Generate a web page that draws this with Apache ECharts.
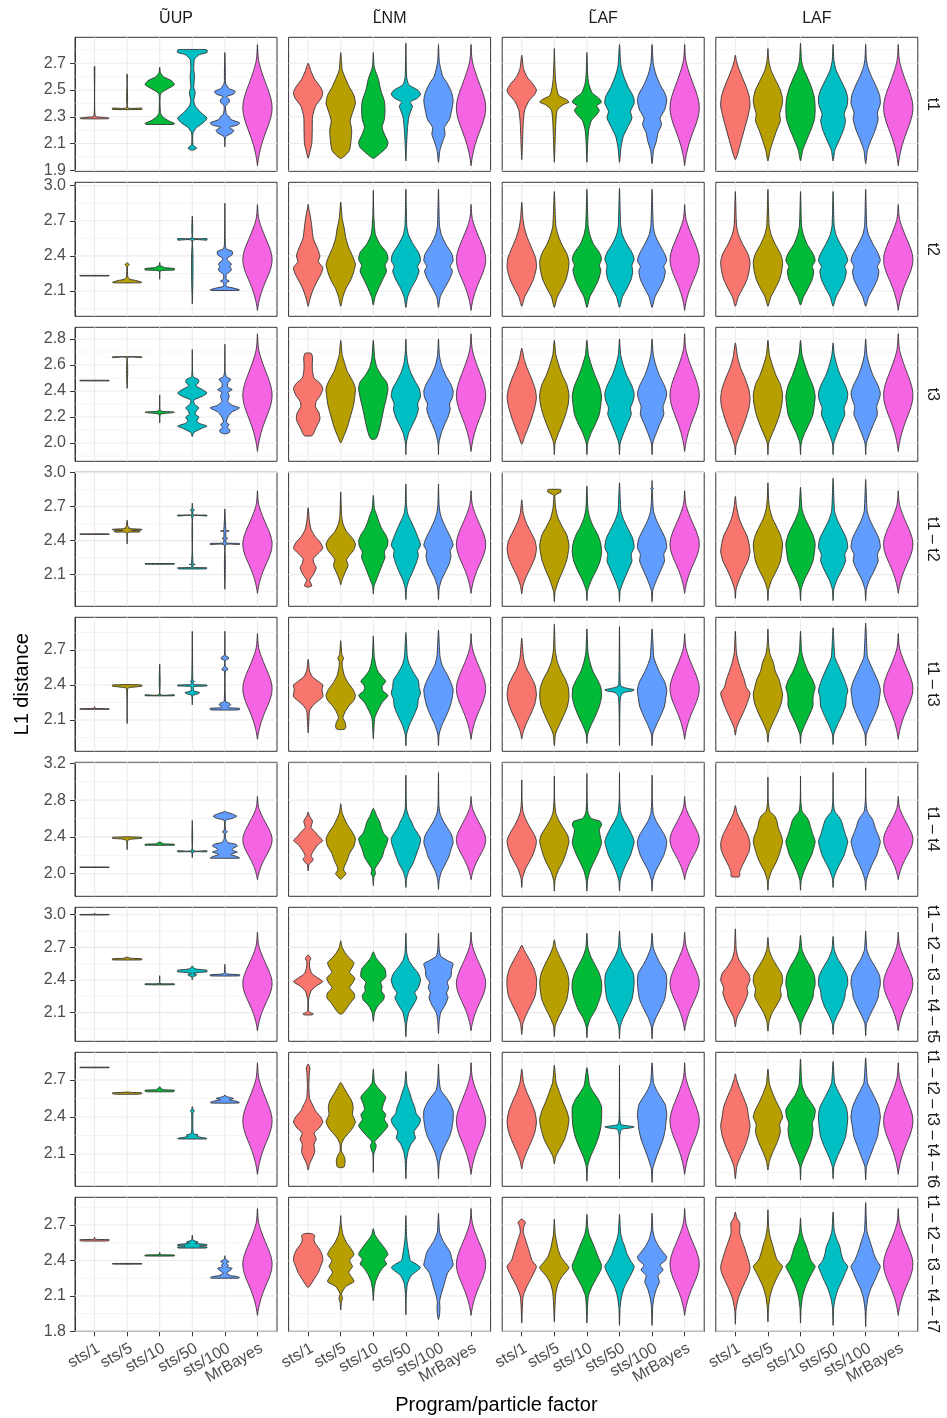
<!DOCTYPE html>
<html>
<head>
<meta charset="utf-8">
<script src="https://cdn.jsdelivr.net/npm/echarts@6/dist/echarts.min.js"></script>
<style>
html,body{margin:0;padding:0;background:#fff}
#chart{width:947px;height:1418px}
</style>
</head>
<body>
<div id="chart"></div>
<script>
// Categories
const programs = ['sts/1', 'sts/5', 'sts/10', 'sts/50', 'sts/100', 'MrBayes'];
const methods = ['\u0168UP', 'L\u0303NM', 'L\u0303AF', 'LAF'];
const topologies = ['t1', 't2', 't3', 't1 \u2013 t2', 't1 \u2013 t3', 't1 \u2013 t4',
  't1 \u2013 t2 \u2013 t3 \u2013 t4 \u2013 t5', 't1 \u2013 t2 \u2013 t3 \u2013 t4 \u2013 t6',
  't1 \u2013 t2 \u2013 t3 \u2013 t4 \u2013 t7'];
const fills = ['#F8766D', '#B79F00', '#00BA38', '#00BFC4', '#619CFF', '#F564E3'];

// Y limits and tick labels per topology row
const yLimits = [[1.8925, 2.894], [1.884, 3.029], [1.859, 2.89], [1.82, 3.003], [1.832, 2.98],
  [1.754, 3.211], [1.837, 3.068], [1.838, 2.925], [1.8, 2.935]];
const yBreaks = [[1.9, 2.1, 2.3, 2.5, 2.7], [2.1, 2.4, 2.7, 3.0], [2.0, 2.2, 2.4, 2.6, 2.8],
  [2.1, 2.4, 2.7, 3.0], [2.1, 2.4, 2.7], [2.0, 2.4, 2.8, 3.2], [2.1, 2.4, 2.7, 3.0],
  [2.1, 2.4, 2.7], [1.8, 2.1, 2.4, 2.7]];

// Violin outlines: flat lists of [L1 distance, relative half-width] pairs, bottom to top.
// MrBayes reference distribution (same in every panel)
const mrBayes = [1.935,0,1.97,.04,2.02,.12,2.08,.25,2.14,.42,2.2,.62,2.26,.82,2.32,.96,2.37,1,2.42,.95,2.48,.8,2.54,.6,2.6,.4,2.66,.22,2.71,.1,2.76,.04,2.84,0];

const violinsT1 = [
  [[2.285,.9,2.29,1,2.297,.45,2.305,.04,2.67,.02,2.68,0],
   [2.355,1,2.365,1,2.37,.03,2.61,.02,2.62,0],
   [2.243,.95,2.25,1,2.27,.6,2.3,.2,2.33,.05,2.47,.05,2.5,.4,2.54,1,2.57,.8,2.6,.25,2.63,.05,2.67,0],
   [2.05,0,2.065,.3,2.09,.05,2.18,.05,2.22,.3,2.26,.8,2.29,1,2.33,.6,2.38,.2,2.42,.1,2.48,.2,2.52,.1,2.6,.15,2.66,.1,2.73,.15,2.765,.5,2.78,1,2.8,1,2.803,.6],
   [2.075,0,2.15,.05,2.18,.5,2.2,.6,2.22,.3,2.24,.9,2.255,1,2.28,.4,2.3,.3,2.32,.1,2.38,.05,2.41,.3,2.43,.3,2.45,.1,2.47,.6,2.49,.7,2.51,.3,2.55,.05,2.65,.03,2.78,0]],
  [[1.99,0,2.03,.1,2.1,.25,2.2,.28,2.3,.3,2.38,.5,2.44,.9,2.48,1,2.52,.85,2.58,.45,2.64,.2,2.7,0],
   [1.99,.05,2.01,.3,2.05,.6,2.12,.7,2.2,.75,2.27,.65,2.33,.8,2.4,1,2.46,.9,2.52,.6,2.58,.35,2.65,.1,2.72,.05,2.78,0],
   [1.99,.05,2.02,.4,2.07,.9,2.11,1,2.16,.8,2.22,.6,2.28,.75,2.35,.8,2.42,.75,2.5,.5,2.58,.35,2.64,.15,2.68,.05,2.78,0],
   [1.97,0,2.1,.05,2.2,.1,2.3,.2,2.36,.4,2.38,.45,2.41,.3,2.44,.8,2.47,1,2.5,.8,2.54,.2,2.6,.05,2.85,0],
   [1.96,0,2.05,.1,2.12,.3,2.17,.45,2.22,.4,2.28,.75,2.35,.9,2.42,1,2.48,.9,2.55,.6,2.6,.3,2.66,.15,2.72,.05,2.84,0]],
  [[1.98,0,2.1,.05,2.25,.1,2.35,.2,2.42,.5,2.47,.9,2.5,1,2.54,.8,2.6,.35,2.66,.12,2.76,0],
   [1.96,0,2.1,.05,2.25,.1,2.35,.2,2.39,.6,2.41,1,2.43,.8,2.46,.3,2.52,.15,2.58,.08,2.7,.03,2.81,0],
   [1.96,0,2.1,.05,2.2,.12,2.27,.3,2.32,.7,2.35,.85,2.38,.65,2.41,1,2.44,.8,2.48,.35,2.55,.12,2.62,.05,2.78,0],
   [1.96,0,2.07,.1,2.15,.25,2.22,.55,2.29,.85,2.34,.75,2.4,1,2.45,.95,2.52,.6,2.6,.3,2.68,.1,2.84,0],
   [1.95,0,2.05,.1,2.12,.3,2.18,.4,2.24,.65,2.29,.55,2.35,.85,2.42,1,2.47,.9,2.54,.55,2.62,.25,2.7,.08,2.84,0]],
  [[1.98,0,2.02,.15,2.1,.35,2.2,.6,2.3,.85,2.38,1,2.45,.95,2.52,.75,2.6,.45,2.67,.2,2.72,.07,2.76,0],
   [1.97,0,2.05,.15,2.12,.35,2.2,.6,2.27,.85,2.32,.8,2.38,.95,2.43,1,2.5,.85,2.58,.5,2.65,.2,2.72,.06,2.81,0],
   [1.97,0,2.05,.15,2.12,.4,2.2,.7,2.28,.95,2.36,1,2.44,.95,2.52,.75,2.6,.45,2.66,.2,2.72,.07,2.85,0],
   [1.97,0,2.05,.12,2.12,.4,2.2,.7,2.27,.85,2.32,.75,2.38,.95,2.44,1,2.5,.85,2.58,.5,2.65,.2,2.72,.06,2.84,0],
   [1.95,0,2.05,.12,2.12,.35,2.2,.65,2.28,.85,2.33,.8,2.4,1,2.46,.95,2.53,.7,2.6,.4,2.67,.15,2.73,.05,2.84,0]]
];

const violinsT2 = [
  [[2.229,1,2.233,1],
   [2.17,.9,2.175,1,2.19,.6,2.2,.2,2.22,.05,2.31,.03,2.325,.15,2.34,0],
   [2.2,0,2.27,.04,2.28,1,2.292,1,2.3,.3,2.31,.2,2.315,.04,2.345,0],
   [1.99,0,2.53,.03,2.535,1,2.548,1,2.555,.03,2.74,0],
   [2.105,.9,2.11,1,2.125,.6,2.14,.1,2.17,.1,2.185,.3,2.2,.1,2.24,.1,2.28,.45,2.31,.35,2.33,.45,2.36,.2,2.38,.15,2.41,.5,2.44,.5,2.46,.1,2.5,.03,2.85,0]],
  [[1.97,0,2.02,.1,2.1,.3,2.18,.6,2.25,.9,2.3,1,2.35,.7,2.4,.8,2.46,.65,2.55,.35,2.65,.25,2.74,.15,2.8,.05,2.84,0],
   [1.97,0,2.05,.15,2.12,.35,2.2,.7,2.27,.9,2.33,1,2.4,.8,2.47,.55,2.55,.35,2.63,.25,2.72,.1,2.86,0],
   [1.98,0,2.05,.12,2.12,.35,2.2,.65,2.27,.9,2.32,.8,2.37,1,2.43,.9,2.5,.45,2.58,.15,2.65,.08,2.75,.03,2.96,0],
   [1.96,0,2.05,.12,2.12,.35,2.2,.7,2.27,.9,2.31,.8,2.36,1,2.42,.9,2.5,.5,2.58,.18,2.66,.06,2.97,0],
   [1.96,0,2.05,.12,2.12,.4,2.2,.75,2.27,.95,2.31,.8,2.36,1,2.42,.9,2.5,.5,2.58,.2,2.66,.07,2.97,0]],
  [[1.97,0,2.05,.2,2.12,.5,2.2,.8,2.3,1,2.38,.95,2.46,.7,2.55,.4,2.63,.2,2.72,.08,2.86,0],
   [1.96,0,2.05,.2,2.12,.5,2.2,.8,2.28,.95,2.35,1,2.42,.85,2.5,.5,2.58,.25,2.66,.1,2.95,0],
   [1.96,0,2.05,.2,2.12,.5,2.2,.8,2.28,.95,2.32,.85,2.37,1,2.43,.85,2.5,.45,2.58,.2,2.66,.08,2.97,0],
   [1.96,0,2.05,.2,2.12,.5,2.2,.8,2.27,.9,2.32,.85,2.37,1,2.43,.85,2.5,.5,2.58,.2,2.66,.08,2.98,0],
   [1.96,0,2.05,.2,2.12,.5,2.2,.8,2.27,.9,2.31,.8,2.36,1,2.42,.85,2.5,.5,2.58,.2,2.66,.08,2.97,0]],
  [[1.97,0,2.05,.2,2.12,.5,2.2,.8,2.28,.95,2.35,1,2.42,.85,2.5,.5,2.58,.22,2.66,.08,2.95,0],
   [1.97,0,2.05,.2,2.12,.5,2.2,.8,2.28,.95,2.35,1,2.42,.85,2.5,.5,2.58,.22,2.66,.08,2.97,0],
   [1.98,0,2.05,.2,2.12,.5,2.2,.8,2.27,.9,2.31,.8,2.36,1,2.42,.85,2.5,.45,2.58,.2,2.66,.07,2.95,0],
   [1.97,0,2.05,.2,2.12,.5,2.2,.8,2.27,.9,2.31,.8,2.36,1,2.42,.85,2.5,.5,2.58,.2,2.66,.07,2.95,0],
   [1.97,0,2.05,.2,2.12,.5,2.2,.8,2.27,.9,2.31,.8,2.36,1,2.42,.85,2.5,.5,2.58,.2,2.66,.07,2.97,0]]
];

const violinsT3 = [
  [[2.478,1,2.482,1],
   [2.42,0,2.655,.03,2.657,1,2.663,1],
   [2.155,0,2.22,.05,2.232,.8,2.236,1,2.24,.8,2.25,.05,2.37,0],
   [2.05,0,2.08,.1,2.11,.6,2.13,1,2.15,.5,2.17,.3,2.2,.45,2.22,.2,2.25,.3,2.27,.45,2.3,.15,2.33,.1,2.36,.7,2.385,1,2.41,.7,2.44,.25,2.47,.45,2.49,.4,2.51,.05,2.72,0],
   [2.07,0,2.08,.3,2.1,.35,2.12,.15,2.14,.3,2.16,.1,2.2,.2,2.24,.5,2.27,1,2.29,.5,2.32,.2,2.36,.3,2.39,.2,2.41,.5,2.43,.2,2.46,.2,2.49,.4,2.51,.1,2.55,.02,2.76,0]],
  [[2.055,.25,2.07,.35,2.12,.55,2.18,.8,2.23,.75,2.28,.5,2.32,.55,2.37,.85,2.42,1,2.46,.8,2.5,.4,2.55,.3,2.6,.28,2.66,.3,2.69,.2],
   [2.0,0,2.05,.2,2.12,.45,2.2,.65,2.28,.85,2.35,.95,2.42,1,2.48,.8,2.55,.45,2.62,.25,2.68,.1,2.79,0],
   [2.03,.15,2.06,.3,2.12,.45,2.2,.6,2.28,.75,2.35,.9,2.42,1,2.47,.9,2.52,.55,2.58,.25,2.65,.1,2.79,0],
   [1.91,0,2.0,.03,2.08,.2,2.14,.45,2.2,.7,2.26,.85,2.3,.8,2.36,1,2.42,.9,2.48,.6,2.55,.3,2.62,.12,2.7,.04,2.8,0],
   [1.91,0,2.0,.03,2.08,.2,2.15,.45,2.2,.65,2.26,.8,2.3,.75,2.35,.95,2.4,1,2.45,.85,2.52,.5,2.6,.2,2.68,.06,2.8,0]],
  [[1.99,0,2.05,.2,2.12,.45,2.2,.7,2.28,.9,2.35,1,2.42,.9,2.5,.65,2.58,.35,2.65,.15,2.73,0],
   [1.91,0,2.0,.05,2.08,.3,2.15,.55,2.23,.8,2.3,.95,2.37,1,2.45,.85,2.52,.55,2.6,.3,2.68,.1,2.79,0],
   [1.91,0,2.0,.05,2.08,.3,2.15,.6,2.22,.85,2.3,.95,2.36,1,2.44,.85,2.52,.55,2.6,.3,2.68,.1,2.79,0],
   [1.91,0,2.0,.05,2.08,.3,2.15,.55,2.22,.8,2.27,.75,2.33,.95,2.38,1,2.44,.85,2.52,.5,2.6,.25,2.68,.08,2.8,0],
   [1.91,0,2.0,.05,2.08,.3,2.15,.55,2.22,.8,2.28,.75,2.33,.9,2.38,1,2.44,.85,2.52,.5,2.6,.25,2.68,.08,2.8,0]],
  [[1.91,0,1.98,.05,2.05,.25,2.12,.5,2.2,.75,2.28,.95,2.35,1,2.42,.9,2.5,.65,2.58,.35,2.66,.15,2.77,0],
   [1.91,0,2.0,.05,2.06,.25,2.14,.55,2.22,.8,2.3,.95,2.37,1,2.45,.85,2.52,.55,2.6,.3,2.68,.1,2.79,0],
   [1.91,0,2.0,.05,2.08,.3,2.15,.6,2.22,.85,2.3,.95,2.36,1,2.44,.85,2.52,.55,2.6,.3,2.68,.1,2.79,0],
   [1.91,0,2.0,.05,2.08,.3,2.15,.55,2.22,.8,2.27,.75,2.33,.95,2.38,1,2.44,.85,2.52,.5,2.6,.25,2.68,.08,2.77,0],
   [1.91,0,2.0,.05,2.08,.3,2.15,.55,2.22,.8,2.28,.75,2.33,.9,2.38,1,2.44,.85,2.52,.5,2.6,.25,2.68,.08,2.8,0]]
];

const violinsT1T2 = [
  [[2.455,1,2.459,1],
   [2.37,0,2.47,.05,2.475,.8,2.485,.9,2.49,.3,2.495,1,2.5,1,2.505,.3,2.51,.1,2.515,.15,2.525,.05,2.58,0],
   [2.192,1,2.197,1],
   [2.15,.9,2.155,1,2.16,1,2.165,.05,2.185,.05,2.19,.2,2.195,.05,2.615,.05,2.617,1,2.625,1,2.628,.05,2.66,.05,2.67,.15,2.68,.03,2.73,0],
   [1.97,0,2.36,.05,2.365,1,2.375,1,2.38,.1,2.415,.08,2.42,.2,2.425,.08,2.48,.08,2.485,.3,2.49,.08,2.68,0]],
  [[1.99,.05,2.0,.25,2.02,.2,2.05,.1,2.1,.35,2.16,.55,2.2,.4,2.24,.35,2.29,.7,2.33,1,2.38,.85,2.44,.45,2.5,.2,2.58,.08,2.69,0],
   [2.01,0,2.05,.08,2.12,.3,2.18,.5,2.23,.4,2.27,.6,2.32,.9,2.37,1,2.42,.8,2.48,.4,2.55,.15,2.62,.06,2.83,0],
   [1.93,0,2.0,.05,2.05,.2,2.1,.35,2.15,.5,2.2,.65,2.25,.8,2.3,.75,2.35,.95,2.4,1,2.45,.85,2.5,.6,2.56,.4,2.62,.25,2.68,.08,2.8,0],
   [1.88,0,1.98,.05,2.05,.2,2.12,.45,2.2,.7,2.27,.85,2.31,.8,2.36,1,2.42,.85,2.5,.6,2.57,.35,2.64,.12,2.72,.04,2.9,0],
   [1.88,0,1.98,.05,2.05,.2,2.12,.45,2.2,.75,2.27,.85,2.31,.8,2.36,1,2.42,.85,2.5,.55,2.57,.3,2.64,.12,2.72,.04,2.9,0]],
  [[1.93,0,2.0,.08,2.08,.3,2.16,.6,2.25,.9,2.33,1,2.4,.9,2.48,.6,2.56,.3,2.64,.1,2.76,0],
   [1.86,0,1.95,.05,2.05,.3,2.14,.6,2.23,.85,2.3,.95,2.36,1,2.45,.85,2.52,.55,2.6,.25,2.68,.1,2.75,.05,2.8,.05,2.83,.45,2.85,.45,2.853,.3],
   [1.87,0,1.96,.05,2.05,.3,2.14,.65,2.22,.9,2.3,1,2.37,.95,2.45,.75,2.52,.45,2.6,.2,2.68,.07,2.88,0],
   [1.86,0,1.96,.05,2.05,.3,2.14,.6,2.22,.85,2.28,.8,2.34,1,2.42,.9,2.5,.6,2.58,.3,2.66,.1,2.91,0],
   [1.86,0,1.96,.05,2.05,.3,2.14,.6,2.22,.85,2.28,.8,2.34,1,2.42,.9,2.5,.6,2.58,.3,2.66,.1,2.85,.02,2.86,.1,2.87,.02,2.93,0]],
  [[1.89,0,1.97,.05,2.05,.25,2.14,.55,2.22,.85,2.3,1,2.36,.95,2.44,.8,2.52,.5,2.6,.25,2.7,.08,2.79,0],
   [1.87,0,1.97,.05,2.05,.25,2.14,.6,2.22,.85,2.3,.95,2.37,1,2.45,.85,2.52,.6,2.6,.3,2.68,.12,2.76,.05,2.91,0],
   [1.87,0,1.97,.05,2.05,.25,2.14,.6,2.22,.85,2.3,.95,2.37,1,2.45,.85,2.52,.6,2.6,.3,2.68,.1,2.87,0],
   [1.87,0,1.97,.05,2.05,.25,2.14,.6,2.22,.85,2.28,.8,2.34,1,2.42,.9,2.5,.6,2.58,.3,2.66,.1,2.95,0],
   [1.87,0,1.97,.05,2.05,.25,2.14,.6,2.22,.85,2.28,.8,2.34,1,2.42,.9,2.5,.6,2.58,.3,2.66,.1,2.94,0]]
];

const violinsT1T3 = [
  [[2.192,1,2.196,1,2.2,.04,2.215,0],
   [2.07,0,2.37,.04,2.38,.3,2.39,1,2.4,1,2.403,.5],
   [2.308,1,2.316,1,2.32,.04,2.58,0],
   [2.23,0,2.31,.05,2.325,.4,2.335,.5,2.35,.1,2.385,.1,2.392,1,2.4,1,2.405,.1,2.425,.05,2.43,.15,2.44,.04,2.86,0],
   [2.186,.9,2.19,1,2.2,1,2.205,.3,2.215,.2,2.23,.4,2.245,.3,2.26,.05,2.52,.03,2.53,.2,2.545,.15,2.56,.03,2.61,.03,2.625,.25,2.64,.22,2.655,.03,2.86,0]],
  [[1.99,0,2.1,.05,2.18,.1,2.22,.3,2.25,.55,2.3,1,2.36,.95,2.4,1,2.43,.7,2.47,.3,2.52,.1,2.62,0],
   [2.02,.25,2.04,.35,2.08,.3,2.12,.15,2.17,.3,2.22,.55,2.27,.9,2.31,1,2.36,.85,2.42,.5,2.48,.25,2.55,.12,2.6,.1,2.63,.2,2.66,.08,2.78,0],
   [1.94,0,2.05,.05,2.12,.1,2.18,.3,2.25,.6,2.31,1,2.35,.65,2.39,.6,2.43,.85,2.47,.6,2.52,.3,2.58,.15,2.65,.06,2.82,0],
   [1.88,0,1.98,.05,2.06,.25,2.14,.55,2.22,.8,2.28,.85,2.33,1,2.38,.9,2.44,.85,2.5,.55,2.57,.25,2.64,.1,2.85,0],
   [1.88,0,1.98,.05,2.06,.25,2.14,.55,2.22,.8,2.3,.95,2.36,1,2.42,.85,2.5,.55,2.57,.25,2.65,.1,2.87,0]],
  [[1.94,0,2.0,.1,2.08,.35,2.16,.65,2.24,.9,2.32,1,2.4,.9,2.48,.6,2.55,.3,2.63,.12,2.8,0],
   [1.88,0,1.98,.08,2.06,.35,2.14,.65,2.22,.9,2.3,1,2.38,.95,2.45,.75,2.52,.45,2.6,.2,2.7,.06,2.92,0],
   [1.9,0,1.98,.05,2.06,.3,2.14,.6,2.22,.85,2.3,1,2.38,.95,2.45,.7,2.52,.4,2.6,.2,2.68,.07,2.88,0],
   [1.88,0,2.2,.03,2.3,.08,2.335,.3,2.35,.9,2.36,1,2.37,.6,2.39,.1,2.45,.04,2.9,0],
   [1.88,0,1.98,.05,2.06,.3,2.14,.6,2.22,.85,2.3,.95,2.36,1,2.43,.85,2.5,.55,2.57,.3,2.64,.12,2.88,0]],
  [[1.97,0,2.03,.08,2.1,.3,2.18,.6,2.26,.85,2.33,1,2.38,.75,2.45,.6,2.52,.4,2.6,.2,2.68,.07,2.86,0],
   [1.91,0,2.0,.08,2.08,.35,2.16,.65,2.24,.9,2.32,1,2.38,.9,2.45,.75,2.52,.5,2.6,.35,2.66,.15,2.74,.05,2.88,0],
   [1.9,0,1.98,.05,2.06,.3,2.14,.6,2.22,.85,2.28,.85,2.33,.9,2.38,1,2.45,.8,2.52,.5,2.6,.25,2.68,.08,2.86,0],
   [1.89,0,1.98,.05,2.06,.3,2.14,.6,2.22,.85,2.3,.9,2.35,1,2.42,.85,2.5,.6,2.57,.35,2.64,.12,2.89,0],
   [1.88,0,1.98,.05,2.06,.3,2.14,.6,2.22,.85,2.3,.95,2.36,1,2.43,.85,2.5,.6,2.57,.35,2.64,.12,2.93,0]]
];

const violinsT1T4 = [
  [[2.068,1,2.072,1],
   [2.26,0,2.36,.04,2.375,.3,2.385,1,2.395,1,2.4,.3],
   [2.31,1,2.32,1,2.325,.2,2.335,.15,2.345,0],
   [2.175,0,2.235,.05,2.238,1,2.25,1,2.255,.05,2.58,0],
   [2.168,.95,2.172,1,2.19,.75,2.21,.4,2.235,.85,2.255,.5,2.275,.55,2.3,.85,2.32,.75,2.34,.2,2.38,.05,2.44,.05,2.455,.18,2.47,.05,2.58,.05,2.6,.5,2.625,.8,2.65,.5,2.67,.1,2.68,0]],
  [[2.03,0,2.1,.05,2.13,.25,2.16,.35,2.19,.2,2.23,.3,2.28,.5,2.32,.7,2.36,1,2.4,.75,2.45,.5,2.5,.2,2.54,.25,2.57,.3,2.6,.2,2.63,.08,2.67,0],
   [1.94,0,1.97,.2,2.0,.35,2.04,.2,2.08,.25,2.15,.45,2.22,.6,2.3,.9,2.38,1,2.45,.8,2.52,.5,2.6,.25,2.67,.08,2.76,0],
   [1.87,0,1.97,.05,2.0,.15,2.05,.1,2.1,.3,2.18,.6,2.26,.75,2.32,.9,2.38,1,2.44,.7,2.5,.55,2.56,.45,2.62,.25,2.71,0],
   [1.85,0,1.95,.05,2.03,.2,2.1,.45,2.18,.65,2.25,.8,2.32,.95,2.38,1,2.44,.8,2.5,.55,2.56,.4,2.62,.2,2.7,.05,2.85,.02,3.07,0],
   [1.83,0,1.93,.05,2.02,.2,2.1,.45,2.18,.7,2.26,.85,2.34,1,2.42,.9,2.5,.6,2.58,.3,2.66,.1,2.75,.03,3.1,0]],
  [[1.85,0,1.95,.05,2.05,.25,2.14,.55,2.22,.8,2.3,.95,2.36,1,2.44,.8,2.52,.5,2.6,.25,2.68,.08,2.8,.02,3.02,0],
   [1.81,0,1.93,.05,2.03,.25,2.12,.55,2.2,.75,2.28,.9,2.35,1,2.42,.9,2.5,.6,2.58,.3,2.66,.1,2.8,.02,3.06,0],
   [1.81,0,1.93,.05,2.03,.2,2.12,.45,2.2,.7,2.28,.9,2.34,1,2.42,.9,2.48,.85,2.53,1,2.57,.9,2.6,.3,2.66,.08,2.8,.02,3.09,0],
   [1.81,0,1.93,.05,2.03,.25,2.12,.5,2.2,.75,2.28,.9,2.35,1,2.42,.85,2.5,.6,2.58,.3,2.66,.1,2.8,.02,3.1,0],
   [1.81,0,1.93,.05,2.03,.25,2.12,.55,2.2,.8,2.28,.95,2.35,1,2.42,.85,2.5,.55,2.58,.25,2.66,.08,2.8,.02,3.07,0]],
  [[1.965,.25,1.98,.3,2.02,.3,2.08,.45,2.16,.7,2.25,.95,2.33,1,2.42,.85,2.5,.6,2.58,.35,2.66,.12,2.74,0],
   [1.82,0,1.93,.05,2.03,.25,2.12,.55,2.2,.75,2.28,.9,2.35,1,2.42,.9,2.5,.7,2.58,.6,2.63,.45,2.68,.12,2.8,.02,3.05,0],
   [1.82,0,1.93,.05,2.03,.25,2.12,.5,2.2,.75,2.28,.9,2.35,1,2.42,.85,2.5,.7,2.58,.55,2.63,.35,2.68,.1,2.8,.02,3.06,0],
   [1.85,0,1.95,.05,2.04,.25,2.12,.5,2.2,.75,2.28,.9,2.35,1,2.42,.85,2.5,.7,2.58,.55,2.63,.35,2.68,.1,2.8,.02,3.1,0],
   [1.82,0,1.93,.05,2.03,.25,2.12,.5,2.2,.75,2.28,.9,2.35,1,2.42,.85,2.5,.65,2.58,.5,2.63,.3,2.68,.1,2.8,.02,3.15,0]]
];

const violinsT5 = [
  [[2.998,1,3.002,1,3.004,.03,3.015,0],
   [2.585,1,2.595,1,2.6,.2,2.605,.15,2.61,0],
   [2.357,1,2.365,1,2.37,.03,2.44,0],
   [2.4,0,2.43,.05,2.44,.25,2.45,.3,2.46,.05,2.47,.5,2.475,1,2.49,1,2.5,.3,2.51,.1,2.53,0],
   [2.438,1,2.448,1,2.455,.2,2.465,.04,2.545,0]],
  [[2.08,.3,2.09,.35,2.1,.15,2.12,.03,2.22,.03,2.3,.2,2.35,.6,2.385,1,2.42,.65,2.46,.25,2.52,.1,2.57,.1,2.6,.18,2.63,0],
   [2.09,.1,2.12,.3,2.18,.6,2.24,.95,2.28,.9,2.33,.6,2.38,.85,2.42,.95,2.47,.6,2.52,.8,2.56,.9,2.6,.6,2.65,.3,2.7,.1,2.76,0],
   [2.02,0,2.1,.08,2.16,.3,2.22,.7,2.26,.75,2.3,.55,2.34,.6,2.38,.5,2.43,.85,2.5,.8,2.55,.5,2.6,.2,2.66,0],
   [1.88,0,2.0,.05,2.1,.2,2.18,.55,2.24,.75,2.28,.6,2.33,.85,2.4,1,2.46,.85,2.52,.5,2.58,.2,2.65,.06,2.83,0],
   [1.91,0,2.02,.05,2.1,.15,2.17,.45,2.24,.65,2.28,.55,2.33,.7,2.38,.6,2.43,.85,2.5,.9,2.55,1,2.58,.6,2.62,.15,2.68,.05,2.83,0]],
  [[1.9,0,2.0,.08,2.08,.3,2.16,.6,2.25,.9,2.33,1,2.42,1,2.5,.85,2.57,.6,2.63,.35,2.68,.15,2.72,0],
   [1.88,0,1.98,.06,2.06,.3,2.14,.6,2.22,.85,2.3,.95,2.38,1,2.46,.9,2.54,.65,2.62,.35,2.7,.1,2.77,0],
   [1.87,0,1.97,.05,2.05,.25,2.13,.6,2.22,.85,2.3,1,2.38,1,2.46,.85,2.54,.55,2.62,.25,2.7,.07,2.83,0],
   [1.86,0,1.97,.05,2.05,.25,2.13,.55,2.22,.85,2.3,.95,2.38,1,2.46,.95,2.54,.65,2.62,.3,2.7,.08,2.85,0],
   [1.86,0,1.97,.05,2.05,.25,2.13,.55,2.22,.85,2.3,.95,2.38,1,2.46,.95,2.54,.6,2.62,.3,2.7,.08,2.83,0]],
  [[1.97,0,2.05,.1,2.12,.35,2.2,.65,2.28,.85,2.33,.8,2.4,1,2.46,.9,2.52,.55,2.6,.2,2.68,.06,2.87,0],
   [1.93,0,2.02,.08,2.1,.3,2.18,.65,2.25,.9,2.32,.85,2.38,1,2.45,.95,2.52,.65,2.6,.3,2.68,.08,2.79,0],
   [1.9,0,2.0,.06,2.08,.3,2.16,.6,2.24,.85,2.3,.9,2.36,1,2.44,.95,2.52,.7,2.6,.35,2.68,.1,2.81,0],
   [1.9,0,2.0,.06,2.08,.3,2.16,.6,2.24,.8,2.3,.85,2.36,1,2.44,.95,2.52,.65,2.6,.3,2.68,.08,2.8,0],
   [1.89,0,2.0,.06,2.08,.3,2.16,.6,2.24,.85,2.3,.9,2.36,1,2.44,.95,2.52,.65,2.6,.3,2.68,.08,2.85,0]]
];

const violinsT6 = [
  [[2.8,1,2.804,1],
   [2.585,.8,2.59,1,2.596,1,2.6,.3,2.603,0],
   [2.605,.9,2.61,1,2.618,1,2.622,.2,2.635,.1,2.645,0],
   [2.222,.9,2.226,1,2.235,.6,2.245,.3,2.255,.4,2.265,.1,2.3,.04,2.44,.05,2.45,.15,2.46,.05,2.485,0],
   [2.513,.9,2.518,1,2.528,.8,2.54,.3,2.55,.6,2.56,.3,2.57,.05,2.58,0]],
  [[1.97,0,2.02,.1,2.07,.3,2.12,.45,2.18,.4,2.22,.55,2.27,.4,2.31,.75,2.36,1,2.4,.85,2.45,.5,2.5,.3,2.55,.1,2.65,.05,2.75,.08,2.8,.12,2.83,0],
   [1.99,.15,2.0,.25,2.05,.3,2.09,.2,2.12,.05,2.18,.05,2.23,.25,2.3,.75,2.36,1,2.42,.8,2.48,.85,2.53,.75,2.58,.5,2.63,.25,2.68,0],
   [1.95,0,2.1,.03,2.14,.15,2.17,.2,2.2,.1,2.24,.4,2.28,.7,2.33,1,2.38,.75,2.42,.85,2.46,.6,2.51,.7,2.56,.85,2.6,.6,2.64,.3,2.68,.08,2.79,0],
   [1.9,0,2.05,.05,2.12,.15,2.18,.35,2.23,.65,2.28,.55,2.34,.9,2.38,1,2.43,.7,2.48,.6,2.54,.4,2.6,.25,2.66,.08,2.77,0],
   [1.9,0,2.02,.05,2.1,.2,2.17,.45,2.24,.75,2.3,.9,2.38,1,2.45,1,2.52,.75,2.57,.45,2.62,.15,2.7,.05,2.83,0]],
  [[1.98,0,2.04,.1,2.12,.35,2.2,.65,2.28,.9,2.36,1,2.44,.9,2.52,.65,2.6,.35,2.68,.12,2.79,0],
   [2.02,0,2.08,.1,2.15,.4,2.22,.7,2.3,.9,2.38,1,2.45,.85,2.52,.6,2.6,.35,2.68,.12,2.82,0],
   [1.88,0,2.0,.05,2.08,.25,2.16,.55,2.24,.8,2.32,.95,2.4,1,2.48,1,2.54,.8,2.6,.45,2.66,.18,2.8,0],
   [1.9,0,2.25,.02,2.3,.15,2.31,.7,2.32,1,2.33,.5,2.34,.1,2.4,.02,2.82,0],
   [1.87,0,1.98,.05,2.06,.25,2.14,.5,2.22,.75,2.3,.9,2.36,.95,2.42,1,2.5,.9,2.56,.6,2.62,.3,2.68,.1,2.84,0]],
  [[1.9,0,2.0,.1,2.08,.35,2.16,.65,2.25,.9,2.33,1,2.4,.9,2.48,.8,2.56,.55,2.63,.3,2.7,.1,2.75,0],
   [1.97,0,2.04,.1,2.12,.35,2.2,.65,2.28,.85,2.34,.8,2.4,1,2.46,.85,2.53,.55,2.6,.3,2.67,.1,2.79,0],
   [1.89,0,2.0,.05,2.08,.3,2.16,.6,2.24,.8,2.3,.85,2.35,.8,2.4,.95,2.46,1,2.52,.7,2.58,.35,2.66,.1,2.87,0],
   [1.9,0,2.0,.06,2.08,.3,2.16,.6,2.24,.85,2.32,.95,2.4,1,2.48,.9,2.55,.6,2.62,.3,2.68,.1,2.85,0],
   [1.89,0,2.0,.06,2.08,.3,2.16,.55,2.24,.8,2.32,.9,2.4,1,2.48,.9,2.55,.65,2.62,.35,2.68,.12,2.88,0]]
];

const violinsT7 = [
  [[2.565,.9,2.57,1,2.576,1,2.58,.04,2.598,0],
   [2.369,1,2.374,1],
   [2.438,1,2.446,1,2.45,.04,2.47,0],
   [2.505,.9,2.508,1,2.514,1,2.518,.5,2.524,.5,2.528,1,2.535,1,2.545,.2,2.555,.4,2.565,.2,2.575,.04,2.615,0],
   [2.25,.9,2.255,1,2.265,.8,2.272,.3,2.28,.3,2.29,.1,2.32,.4,2.333,.5,2.345,.15,2.36,.25,2.375,.1,2.39,.28,2.4,.2,2.41,.04,2.44,0]],
  [[2.17,0,2.2,.2,2.25,.45,2.3,.7,2.35,.85,2.4,1,2.45,.95,2.5,.75,2.55,.45,2.58,.4,2.61,.45,2.625,.3,2.63,0],
   [1.98,0,2.05,.05,2.08,.12,2.12,.05,2.18,.35,2.22,.9,2.25,.8,2.3,.55,2.35,.8,2.4,.6,2.45,.9,2.5,.7,2.55,.4,2.62,.15,2.7,.04,2.78,0],
   [2.06,0,2.15,.05,2.22,.15,2.28,.35,2.33,.6,2.37,.9,2.41,.75,2.45,1,2.49,.85,2.54,.55,2.58,.3,2.62,.1,2.67,0],
   [1.94,0,2.1,.03,2.2,.1,2.27,.35,2.31,.75,2.34,1,2.37,.7,2.4,.3,2.46,.2,2.52,.12,2.6,.05,2.78,0],
   [1.9,0,1.95,.08,2.0,.1,2.05,.08,2.1,.15,2.18,.35,2.25,.5,2.3,.65,2.36,1,2.42,.9,2.47,.8,2.52,.55,2.57,.3,2.64,.08,2.8,0]],
  [[1.87,0,2.0,.04,2.1,.1,2.18,.35,2.24,.6,2.3,.85,2.35,1,2.4,.7,2.46,.55,2.52,.4,2.58,.25,2.64,.1,2.69,.15,2.72,.25,2.745,.1,2.75,0],
   [1.88,0,2.0,.04,2.12,.1,2.2,.25,2.26,.5,2.31,.85,2.34,1,2.38,.75,2.43,.45,2.5,.25,2.56,.15,2.62,.06,2.75,0],
   [1.87,0,2.0,.04,2.1,.1,2.18,.35,2.25,.65,2.32,.95,2.36,1,2.42,.8,2.5,.55,2.56,.35,2.62,.15,2.68,.06,2.79,0],
   [1.85,0,2.0,.04,2.1,.15,2.18,.35,2.25,.65,2.31,.9,2.35,1,2.4,.75,2.46,.5,2.52,.35,2.57,.2,2.63,.08,2.79,0],
   [1.85,0,2.0,.04,2.08,.12,2.16,.3,2.22,.5,2.27,.4,2.32,.75,2.36,.55,2.4,.9,2.43,1,2.47,.75,2.52,.45,2.58,.2,2.65,.06,2.8,0]],
  [[1.86,0,1.98,.04,2.08,.2,2.16,.45,2.24,.75,2.3,.95,2.35,1,2.42,.85,2.5,.65,2.57,.45,2.63,.3,2.68,.3,2.72,.3,2.76,.1,2.81,0],
   [1.88,0,2.0,.04,2.1,.15,2.18,.35,2.25,.6,2.31,.85,2.35,1,2.4,.65,2.47,.45,2.54,.3,2.6,.15,2.68,.05,2.83,0],
   [1.87,0,2.0,.04,2.1,.15,2.18,.35,2.25,.6,2.31,.85,2.35,1,2.4,.7,2.46,.55,2.52,.4,2.58,.2,2.65,.06,2.76,0],
   [1.85,0,2.0,.04,2.08,.15,2.16,.35,2.24,.65,2.3,.85,2.35,1,2.4,.7,2.46,.55,2.52,.45,2.58,.25,2.65,.08,2.81,0],
   [1.84,0,1.98,.04,2.08,.15,2.16,.35,2.24,.65,2.3,.85,2.35,1,2.4,.75,2.46,.55,2.52,.4,2.58,.25,2.65,.08,2.89,0]]
];

const violinRows = [violinsT1, violinsT2, violinsT3, violinsT1T2, violinsT1T3, violinsT1T4,
  violinsT5, violinsT6, violinsT7];

// ---- layout ----
const FONT = "'Liberation Sans', Arial, sans-serif";
const LEFT0 = 75, COL_STEP = 213.6, PANEL_W = 202;
const TOP0 = 37.3, ROW_STEP = 145, PANEL_H = 134;
const HALF = 0.45;           // half of the violin width, in category units
const catTicks = [1, 2, 3, 4, 5, 6];

const chart = echarts.init(document.getElementById('chart'), null, { renderer: 'canvas' });

const grids = [], xAxes = [], yAxes = [], series = [], graphics = [];

function minorBreaks(ticks, lo, hi) {
  const step = ticks[1] - ticks[0];
  const out = [];
  for (let v = ticks[0] - step / 2; v < hi; v += step) if (v > lo) out.push(+v.toFixed(4));
  return out;
}

topologies.forEach((topo, r) => {
  const [lo, hi] = yLimits[r];
  const ticks = yBreaks[r];
  const minors = minorBreaks(ticks, lo, hi);
  const gridData = ticks.map(v => [0, v]).concat(minors.map(v => [1, v])).concat(catTicks.map(v => [2, v]));

  methods.forEach((m, c) => {
    const gi = r * methods.length + c;
    const left = LEFT0 + c * COL_STEP;
    const top = TOP0 + r * ROW_STEP;
    grids.push({ left, top, width: PANEL_W, height: PANEL_H, show: true,
      borderColor: '#333333', borderWidth: 1, backgroundColor: '#ffffff' });

    const bottom = r === topologies.length - 1;
    xAxes.push({
      gridIndex: gi, type: 'value', min: 0.4, max: 6.6,
      splitLine: { show: false },
      axisLine: { show: bottom, onZero: false, lineStyle: { color: '#333333', width: 1 } },
      axisTick: { show: bottom, customValues: catTicks, length: 5, lineStyle: { color: '#333333', width: 1 } },
      axisLabel: { show: bottom, customValues: catTicks, rotate: 30, margin: 9,
        align: 'right', verticalAlign: 'top',
        formatter: v => programs[Math.round(v) - 1], color: '#4D4D4D', fontSize: 16, fontFamily: FONT }
    });
    yAxes.push({
      gridIndex: gi, type: 'value', min: lo, max: hi,
      splitLine: { show: false },
      axisLine: { show: c === 0, onZero: false, lineStyle: { color: '#333333', width: 1 } },
      axisTick: { show: c === 0, customValues: ticks, length: 5, lineStyle: { color: '#333333', width: 1 } },
      axisLabel: { show: c === 0, customValues: ticks, margin: 9,
        formatter: v => v.toFixed(1), color: '#4D4D4D', fontSize: 16, fontFamily: FONT }
    });

    // background grid lines
    series.push({
      type: 'custom', xAxisIndex: gi, yAxisIndex: gi, silent: true, z: 1,
      data: gridData,
      renderItem: (params, api) => {
        const kind = api.value(0), v = api.value(1);
        const cs = params.coordSys;
        if (kind === 2) {
          const x = api.coord([v, (lo + hi) / 2])[0];
          return { type: 'line', shape: { x1: x, y1: cs.y, x2: x, y2: cs.y + cs.height },
            style: { stroke: '#EBEBEB', lineWidth: 1.1 } };
        }
        const y = api.coord([3.5, v])[1];
        return { type: 'line', shape: { x1: cs.x, y1: y, x2: cs.x + cs.width, y2: y },
          style: { stroke: '#EBEBEB', lineWidth: kind === 0 ? 1.1 : 0.55 } };
      }
    });

    // violins
    const list = violinRows[r][c].concat([mrBayes]);
    series.push({
      type: 'custom', xAxisIndex: gi, yAxisIndex: gi, silent: true, z: 2,
      data: list.map((_, i) => [i + 1, (lo + hi) / 2]),
      renderItem: (params, api) => {
        const k = list[params.dataIndex];
        const xc = api.value(0);
        const right = [], left = [];
        for (let j = 0; j < k.length; j += 2) {
          const y = k[j], w = k[j + 1] * HALF;
          right.push(api.coord([xc + w, y]));
          if (w > 0) left.push(api.coord([xc - w, y]));
        }
        const pts = right.concat(left.reverse());
        return { type: 'polygon', shape: { points: pts, smooth: 0.2 },
          style: { fill: fills[params.dataIndex], stroke: '#333333', lineWidth: 0.9, lineJoin: 'round' } };
      }
    });

    if (r === 0) {
      graphics.push({ type: 'text', x: left + PANEL_W / 2, y: 19,
        style: { text: m, align: 'center', verticalAlign: 'middle', fill: '#1A1A1A', font: '16px ' + FONT } });
    }
  });

  graphics.push({ type: 'text', x: 932, y: TOP0 + r * ROW_STEP + PANEL_H / 2, rotation: -Math.PI / 2,
    style: { text: topo, align: 'center', verticalAlign: 'middle', fill: '#1A1A1A', font: '16px ' + FONT } });
});

graphics.push({ type: 'text', x: LEFT0 + (3 * COL_STEP + PANEL_W) / 2, y: 1405,
  style: { text: 'Program/particle factor', align: 'center', verticalAlign: 'middle', fill: '#000', font: '20px ' + FONT } });
graphics.push({ type: 'text', x: 22, y: TOP0 + (8 * ROW_STEP + PANEL_H) / 2, rotation: Math.PI / 2,
  style: { text: 'L1 distance', align: 'center', verticalAlign: 'middle', fill: '#000', font: '20px ' + FONT } });

chart.setOption({
  animation: false,
  backgroundColor: '#ffffff',
  textStyle: { fontFamily: FONT },
  grid: grids,
  xAxis: xAxes,
  yAxis: yAxes,
  series: series,
  graphic: graphics
});
</script>
</body>
</html>
